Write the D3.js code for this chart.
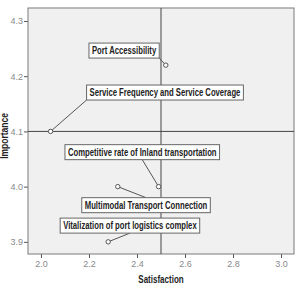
<!DOCTYPE html>
<meta charset="utf-8">
<svg width="296" height="288"></svg>
<style>
    body { margin: 0; background: #fff; }
    svg text { font-family: "Liberation Sans", Arial, sans-serif; }
    .tick text { fill: #8a8a8a; font-size: 9px; }
    .lbl text { font-family: "Liberation Sans", Arial, sans-serif; font-weight: bold; font-size: 10px; fill: #222; }
</style>
<script src="https://d3js.org/d3.v7.min.js"></script>
<script>
    // data
    var factors = ["Port Accessibility", "Service Frequency and Service Coverage",
        "Competitive rate of Inland transportation", "Multimodal Transport Connection",
        "Vitalization of port logistics complex"];
    var satisfaction = [2.52, 2.04, 2.49, 2.32, 2.28];
    var importance = [4.22, 4.10, 4.00, 4.00, 3.90];
    // where the label box (top-left) sits, in data units
    var labelSat = [2.20, 2.19, 2.10, 2.17, 2.08];
    var labelImp = [4.26, 4.184, 4.076, 3.98, 3.943];
    var xTicks = [2.0, 2.2, 2.4, 2.6, 2.8, 3.0];
    var yTicks = [3.9, 4.0, 4.1, 4.2, 4.3];
    var refSat = 2.5, refImp = 4.1;

    var svg = d3.select("svg"),
        margin = {top: 8, left: 28, bottom: 34, right: 2},
        width = +svg.attr("width") - margin.left - margin.right,
        height = +svg.attr("height") - margin.top - margin.bottom;
    var squeeze = 0.77; // labels are set in a narrow face

    var x = d3.scaleLinear().domain([1.946, 3.054]).range([0, width]);
    var y = d3.scaleLinear().domain([3.878, 4.3235]).range([height, 0]);

    var g = svg.append("g")
        .attr("transform", "translate(" + margin.left + "," + margin.top + ")");

    g.append("rect").attr("width", width).attr("height", height)
        .attr("fill", "#f0f0f0");

    var xa = g.append("g").attr("transform", "translate(0," + height + ")")
        .call(d3.axisBottom(x).tickValues(xTicks).tickFormat(d3.format(".1f")).tickSize(4).tickPadding(3));
    var ya = g.append("g")
        .call(d3.axisLeft(y).tickValues(yTicks).tickFormat(d3.format(".1f")).tickSize(4).tickPadding(1));
    [xa, ya].forEach(function (a) {
        a.select(".domain").remove();
        a.selectAll("line").attr("stroke", "#555");
    });

    g.append("rect").attr("width", width).attr("height", height)
        .attr("fill", "none").attr("stroke", "#7a7a7a").attr("stroke-width", 1);

    // reference lines
    g.append("line").attr("x1", x(refSat)).attr("x2", x(refSat))
        .attr("y1", 0).attr("y2", height).attr("stroke", "#444");
    g.append("line").attr("x1", 0).attr("x2", width)
        .attr("y1", y(refImp)).attr("y2", y(refImp)).attr("stroke", "#444");

    var lbl = g.append("g").attr("class", "lbl");
    factors.forEach(function (name, i) {
        var px = x(satisfaction[i]), py = y(importance[i]);
        var bx = x(labelSat[i]), by = y(labelImp[i]);
        var t = lbl.append("text")
            .attr("transform", "translate(" + (bx + 3) + "," + (by + 11) + ") scale(" + squeeze + ",1)")
            .text(name);
        var w = t.node().getBBox().width * squeeze + 6, h = 15;
        var anchors = [];
        [0, 0.5, 1].forEach(function (fx) {
            [0, 0.5, 1].forEach(function (fy) {
                if (fx != 0.5 || fy != 0.5) anchors.push([bx + fx * w, by + fy * h]);
            });
        });
        var a = d3.least(anchors, function (p) { return Math.hypot(p[0] - px, p[1] - py); });
        lbl.insert("line", "text").attr("x1", a[0]).attr("y1", a[1]).attr("x2", px).attr("y2", py)
            .attr("stroke", "#555");
        lbl.insert("rect", "text").attr("x", bx).attr("y", by).attr("width", w).attr("height", h)
            .attr("fill", "#fff").attr("stroke", "#666");
        lbl.append("circle").attr("cx", px).attr("cy", py).attr("r", 2.2)
            .attr("fill", "#fff").attr("stroke", "#555");
    });

    svg.append("text").attr("transform", "translate(" + (margin.left + x(2.5)) + ",283) scale(0.8,1)")
        .attr("text-anchor", "middle").attr("font-size", 10).attr("font-weight", "bold")
        .attr("fill", "#222").text("Satisfaction");
    svg.append("text").attr("transform", "translate(8,136) rotate(-90) scale(0.85,1)")
        .attr("text-anchor", "middle").attr("font-size", 10).attr("font-weight", "bold")
        .attr("fill", "#222").text("Importance");
</script>
